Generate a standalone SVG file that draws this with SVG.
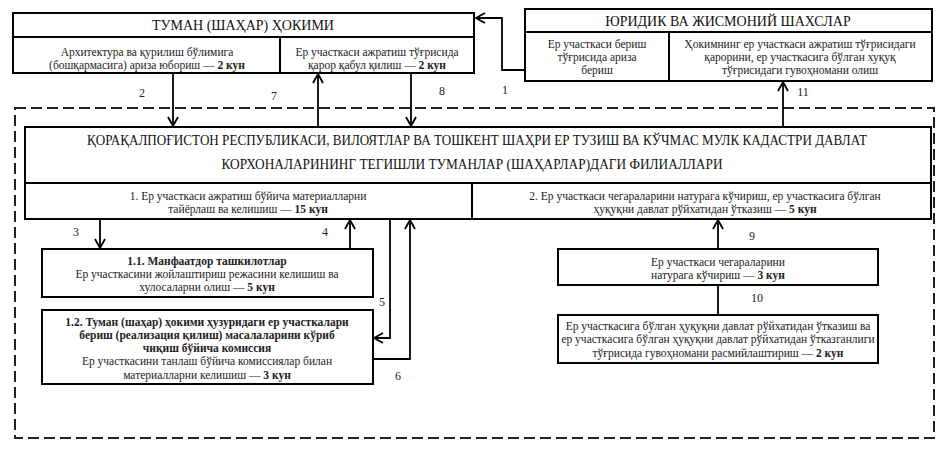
<svg xmlns="http://www.w3.org/2000/svg" width="946" height="451" viewBox="0 0 946 451">
<defs>
<marker id="ah" markerWidth="12" markerHeight="12" refX="10" refY="6" orient="auto" markerUnits="userSpaceOnUse">
<path d="M1,1 L10,6 L1,11" fill="none" stroke="#000" stroke-width="1.8"/>
</marker>
</defs>
<style>
.box{fill:#fff;stroke:#000;stroke-width:2}
text{font-family:"Liberation Serif","DejaVu Serif",serif;fill:#222}
.t{font-size:11.5px;text-anchor:middle}
.h{font-size:14px;fill:#111;text-anchor:middle}
.b{font-weight:bold}
.lab{font-size:12px;text-anchor:middle}
.c{fill:none;stroke:#000;stroke-width:1.8}
.dash{fill:none;stroke:#222;stroke-width:2;stroke-dasharray:11 5}
</style>
<rect width="946" height="451" fill="#fff"/>
<rect class="dash" x="15" y="108" width="919" height="330"/>

<g id="tuman">
<rect class="box" x="13" y="13" width="461" height="24"/>
<text class="h" x="243" y="30">ТУМАН (ШАҲАР) ҲОКИМИ</text>
<rect class="box" x="13" y="37" width="267" height="36"/>
<text class="t" x="147" y="56">Архитектура ва қурилиш бўлимига</text>
<text class="t" x="147" y="69">(бошқармасига) ариза юбориш — <tspan class="b">2 кун</tspan></text>
<rect class="box" x="280" y="37" width="194" height="36"/>
<text class="t" x="377" y="56">Ер участкаси ажратиш тўғрисида</text>
<text class="t" x="377" y="69">қарор қабул қилиш — <tspan class="b">2 кун</tspan></text>
</g>

<g id="yuridik">
<rect class="box" x="525" y="9" width="407" height="23"/>
<text class="h" x="728" y="26">ЮРИДИК ВА ЖИСМОНИЙ ШАХСЛАР</text>
<rect class="box" x="525" y="32" width="144" height="49"/>
<text class="t" x="597" y="48">Ер участкаси бериш</text>
<text class="t" x="597" y="61">тўғрисида ариза</text>
<text class="t" x="597" y="74">бериш</text>
<rect class="box" x="669" y="32" width="263" height="49"/>
<text class="t" x="800" y="48">Ҳокимнинг ер участкаси ажратиш тўғрисидаги</text>
<text class="t" x="800" y="61">қарорини, ер участкасига бўлган хуқуқ</text>
<text class="t" x="800" y="74">тўғрисидаги гувоҳномани олиш</text>
</g>

<g id="filial">
<rect class="box" x="25" y="127" width="906" height="56"/>
<text class="h" x="477" y="145" textLength="780" lengthAdjust="spacingAndGlyphs">ҚОРАҚАЛПОҒИСТОН РЕСПУБЛИКАСИ, ВИЛОЯТЛАР ВА ТОШКЕНТ ШАҲРИ ЕР ТУЗИШ ВА КЎЧМАС МУЛК КАДАСТРИ ДАВЛАТ</text>
<text class="h" x="472" y="169" textLength="501" lengthAdjust="spacingAndGlyphs">КОРХОНАЛАРИНИНГ ТЕГИШЛИ ТУМАНЛАР (ШАҲАРЛАР)ДАГИ ФИЛИАЛЛАРИ</text>
</g>

<g id="step1">
<rect class="box" x="25" y="183" width="447" height="36"/>
<text class="t" x="248" y="200">1. Ер участкаси ажратиш бўйича материалларни</text>
<text class="t" x="248" y="213">тайёрлаш ва келишиш — <tspan class="b">15 кун</tspan></text>
</g>

<g id="step2">
<rect class="box" x="472" y="183" width="459" height="36"/>
<text class="t" x="705" y="200">2. Ер участкаси чегараларини натурага кўчириш, ер участкасига бўлган</text>
<text class="t" x="705" y="213">ҳуқуқни давлат рўйхатидан ўтказиш — <tspan class="b">5 кун</tspan></text>
</g>

<g id="step11">
<rect class="box" x="42" y="249" width="331" height="48"/>
<text class="t b" x="207" y="265">1.1. Манфаатдор ташкилотлар</text>
<text class="t" x="207" y="278">Ер участкасини жойлаштириш режасини келишиш ва</text>
<text class="t" x="207" y="291">хулосаларни олиш — <tspan class="b">5 кун</tspan></text>
</g>

<g id="step12">
<rect class="box" x="42" y="310" width="331" height="74"/>
<text class="t b" x="207" y="326">1.2. Туман (шаҳар) ҳокими ҳузуридаги ер участкалари</text>
<text class="t b" x="207" y="339">бериш (реализация қилиш) масалаларини кўриб</text>
<text class="t b" x="207" y="352">чиқиш бўйича комиссия</text>
<text class="t" x="207" y="365">Ер участкасини танлаш бўйича комиссиялар билан</text>
<text class="t" x="207" y="379">материалларни келишиш — <tspan class="b">3 кун</tspan></text>
</g>

<g id="step21">
<rect class="box" x="558" y="249" width="320" height="36"/>
<text class="t" x="718" y="266">Ер участкаси чегараларини</text>
<text class="t" x="718" y="279">натурага кўчириш — <tspan class="b">3 кун</tspan></text>
</g>

<g id="step22">
<rect class="box" x="558" y="315" width="320" height="48"/>
<text class="t" x="718" y="330">Ер участкасига бўлган ҳуқуқни давлат рўйхатидан ўтказиш ва</text>
<text class="t" x="718" y="343">ер участкасига бўлган ҳуқуқни давлат рўйхатидан ўтказганлиги</text>
<text class="t" x="718" y="357">тўғрисида гувоҳномани расмийлаштириш — <tspan class="b">2 кун</tspan></text>
</g>

<g id="connectors">
<path class="c" d="M525,70 H502 V18 H476" stroke="#444" stroke-width="2.4" marker-end="url(#ah)"/>
<path class="c" d="M173,73 V126" marker-end="url(#ah)"/>
<path class="c" d="M318,127 V74" marker-end="url(#ah)"/>
<path class="c" d="M411,73 V126" marker-end="url(#ah)"/>
<path class="c" d="M783,127 V82" marker-end="url(#ah)"/>
<path class="c" d="M100,219 V248" marker-end="url(#ah)"/>
<path class="c" d="M350,249 V220" marker-end="url(#ah)"/>
<path class="c" d="M390,219 V338 H374" marker-end="url(#ah)"/>
<path class="c" d="M373,359 H410 V220" marker-end="url(#ah)"/>
<path class="c" d="M718,249 V220" marker-end="url(#ah)"/>
<path class="c" d="M718,285 V315"/>
<text class="lab" x="505" y="94">1</text>
<text class="lab" x="142" y="97">2</text>
<text class="lab" x="76" y="236">3</text>
<text class="lab" x="325" y="236">4</text>
<text class="lab" x="382" y="306">5</text>
<text class="lab" x="398" y="380">6</text>
<text class="lab" x="274" y="100">7</text>
<text class="lab" x="442" y="95">8</text>
<text class="lab" x="752" y="240">9</text>
<text class="lab" x="757" y="302">10</text>
<text class="lab" x="803" y="96">11</text>
</g>
</svg>
